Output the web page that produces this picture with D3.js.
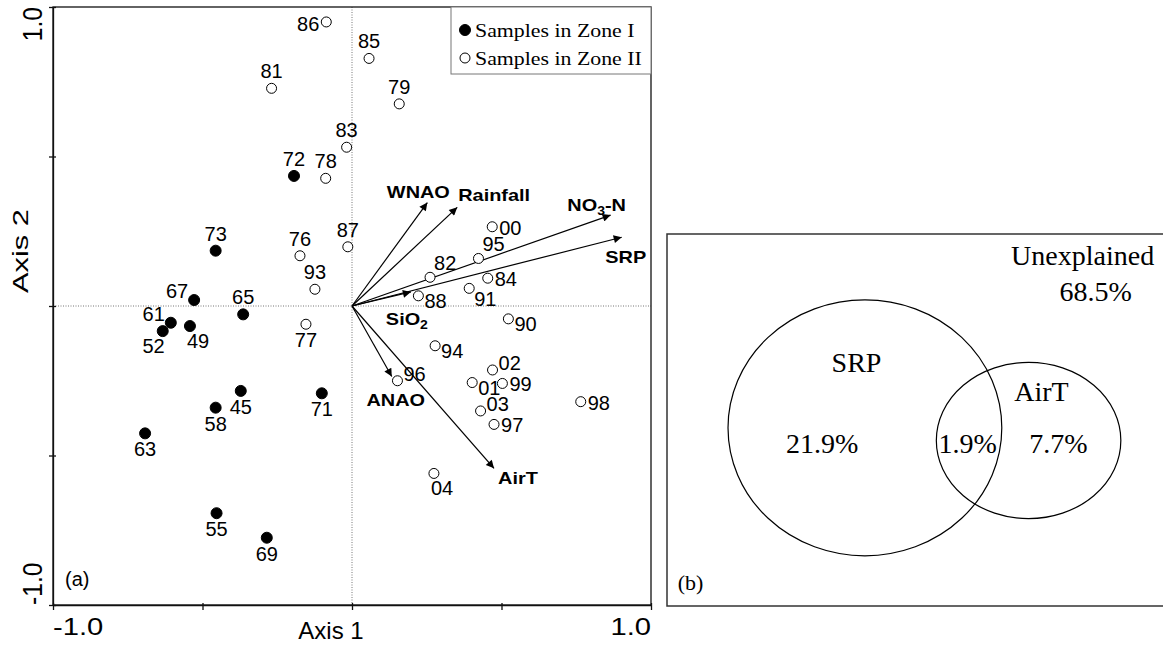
<!DOCTYPE html>
<html lang="en">
<head>
<meta charset="UTF-8">
<title>CCA biplot and variance partitioning</title>
<script src="https://cdn.jsdelivr.net/npm/d3@7"></script>
<style>
  body { margin: 0; background: #fff; }
  svg { display: block; }
</style>
</head>
<body>
<svg width="1163" height="647"></svg>
<script>
// samples, zone I (filled)
var zone1Ids = ["72","73","67","65","61","52","49","45","71","58","63","55","69"];
var zone1X   = [-0.194,-0.456,-0.528,-0.364,-0.606,-0.633,-0.542,-0.372,-0.101,-0.456,-0.692,-0.453,-0.285];
var zone1Y   = [ 0.435, 0.185, 0.020,-0.028,-0.056,-0.084,-0.067,-0.284,-0.292,-0.340,-0.426,-0.693,-0.775];

// samples, zone II (open)
var zone2Ids = ["86","85","81","79","83","78","87","76","93","77","00","95","82","84","91","88","90","94","02","96","01","99","98","03","97","04"];
var zone2X   = [-0.086,0.057,-0.269,0.158,-0.018,-0.088,-0.014,-0.174,-0.124,-0.154,0.469,0.423,0.261,0.454,0.392,0.222,0.523,0.278,0.470,0.152,0.402,0.503,0.765,0.430,0.475,0.274];
var zone2Y   = [ 0.950,0.828, 0.728,0.676, 0.531, 0.427, 0.198, 0.168, 0.056,-0.061,0.265,0.159,0.096,0.093,0.059,0.034,-0.043,-0.133,-0.214,-0.250,-0.256,-0.259,-0.320,-0.351,-0.396,-0.560];

// environmental vectors
var envNames = ["WNAO","Rainfall","NO3-N","SRP","SiO2","ANAO","AirT"];
var envX     = [0.252, 0.352, 0.865, 0.902, 0.197, 0.133, 0.475];
var envY     = [0.346, 0.330, 0.304, 0.230, 0.047,-0.236,-0.543];

var axisTicks = [-1, -0.5, 0, 0.5, 1];
var tickLabels = ["-1.0", "1.0"];
var legendLabels = ["Samples in Zone I", "Samples in Zone II"];

// variance partitioning (b)
var vennSets  = ["SRP", "AirT"];
var vennOnly  = [21.9, 7.7];
var vennShared = 1.9;
var vennUnexplained = 68.5;

// where each sample label sits relative to its point
var labelSide = {
  "86":"l","85":"t","81":"t","79":"t","83":"t","78":"t","72":"t","73":"t","76":"t","87":"t","93":"t","65":"t",
  "67":"tl","61":"tl","52":"bbl","49":"bbr","04":"bbr",
  "77":"b","45":"b","71":"b","58":"b","63":"b","55":"b","69":"b",
  "00":"r","84":"r","99":"r","98":"r","97":"r",
  "95":"tr","82":"tr","96":"ur","02":"ur","03":"ur",
  "88":"rb","90":"rb","94":"rb","01":"rb","91":"br"
};
var sideOffset = {
  t:[0,-10,"middle"], b:[0,23,"middle"], l:[-7,9,"end"], r:[7,8,"start"],
  tr:[4,-7,"start"], tl:[-6,-2,"end"], ur:[6,0,"start"], rb:[6,12,"start"],
  br:[5,18,"start"], bbr:[-3,22,"start"], bbl:[2,22,"end"]
};
// vector label offsets from arrow tip
var envLabelOff = {
  "WNAO":[-9,-5,"middle"], "Rainfall":[1,-6,"start"], "NO3-N":[-14,-4,"middle"],
  "SRP":[4,26,"middle"], "SiO2":[-4,33,"middle"], "ANAO":[4,29,"middle"], "AirT":[4,16,"start"]
};

var svg = d3.select("svg");
var sans = "'Liberation Sans', Arial, sans-serif";
var serif = "'Liberation Serif', 'Times New Roman', serif";

// text helper: position, rotation and stretch along the baseline
function txt(g, s, x, y, o) {
  return g.append("text")
    .attr("transform", "translate(" + x + "," + y + ") rotate(" + (o.rot || 0) + ") scale(" + (o.sx || 1) + ",1)")
    .attr("text-anchor", o.anchor || "start")
    .style("font-family", o.font || sans)
    .attr("font-size", o.size)
    .attr("font-weight", o.weight || "normal")
    .attr("fill", "#000")
    .text(s);
}

// ---------- panel (a) ----------
var x = d3.scaleLinear().domain([-1, 1]).range([53, 651]);
var y = d3.scaleLinear().domain([-1, 1]).range([605, 7]);
var ga = svg.append("g");

// dotted zero lines
ga.append("line").attr("x1", x(0)).attr("x2", x(0)).attr("y1", y(1)).attr("y2", y(-1))
  .attr("stroke", "#777").attr("stroke-width", 1).attr("stroke-dasharray", "1,1.5");
ga.append("line").attr("x1", x(-1)).attr("x2", x(1)).attr("y1", y(0)).attr("y2", y(0))
  .attr("stroke", "#777").attr("stroke-width", 1).attr("stroke-dasharray", "1,1.5");

// frame
ga.append("rect").attr("x", x(-1)).attr("y", y(1)).attr("width", x(1) - x(-1)).attr("height", y(-1) - y(1))
  .attr("fill", "none").attr("stroke", "#111").attr("stroke-width", 1.3);

// axes (ticks only)
var xAxis = d3.axisBottom(x).tickValues(axisTicks).tickSizeInner(5).tickSizeOuter(0).tickFormat("");
var yAxis = d3.axisLeft(y).tickValues(axisTicks).tickSizeInner(4).tickSizeOuter(0).tickFormat("");
var gx = ga.append("g").attr("transform", "translate(0," + y(-1) + ")").call(xAxis);
var gy = ga.append("g").attr("transform", "translate(" + x(-1) + ",0)").call(yAxis);
gx.selectAll(".tick line").attr("y1", -2);
gy.selectAll(".tick line").attr("x1", 3);
[gx, gy].forEach(function (g) {
  g.select(".domain").attr("stroke", "#111").attr("stroke-width", 1.3);
  g.selectAll(".tick line").attr("stroke", "#111").attr("stroke-width", 1.3);
});

// tick labels at the ends
txt(ga, tickLabels[0], x(-1), 635, {size: 23, sx: 1.27, anchor: "start"});
txt(ga, tickLabels[1], x(1), 635, {size: 23, sx: 1.27, anchor: "end"});
txt(ga, tickLabels[1], 41.5, y(1), {size: 28, sx: 0.88, rot: -90, anchor: "end"});
txt(ga, tickLabels[0], 41.5, y(-1), {size: 28, sx: 0.88, rot: -90, anchor: "start"});
// axis titles
txt(ga, "Axis 1", 331, 639, {size: 24, anchor: "middle"});
txt(ga, "Axis 2", 28, 251, {size: 22, sx: 1.4, rot: -90, anchor: "middle"});
txt(ga, "(a)", 65, 586, {size: 20});

// environmental arrows
var defs = svg.append("defs");
defs.append("marker").attr("id", "head").attr("viewBox", "0 0 10 10")
  .attr("refX", 10).attr("refY", 5).attr("markerUnits", "userSpaceOnUse")
  .attr("markerWidth", 13).attr("markerHeight", 8).attr("orient", "auto")
  .append("path").attr("d", "M0,0 L10,5 L0,10 Z").attr("fill", "#000");

var env = envNames.map(function (n, i) { return {name: n, x: envX[i], y: envY[i]}; });
ga.selectAll(".vec").data(env).enter().append("line").attr("class", "vec")
  .attr("x1", x(0)).attr("y1", y(0))
  .attr("x2", function (d) { return x(d.x); }).attr("y2", function (d) { return y(d.y); })
  .attr("stroke", "#000").attr("stroke-width", 1.2).attr("marker-end", "url(#head)");

env.forEach(function (d) {
  var o = envLabelOff[d.name];
  var t = txt(ga, "", x(d.x) + o[0], y(d.y) + o[1], {size: 17, sx: 1.17, weight: "bold", anchor: o[2]});
  var m = d.name.match(/^([A-Za-z]+?)(\d)(.*)$/);
  if (m) {
    t.append("tspan").text(m[1]);
    t.append("tspan").attr("font-size", 12).attr("dy", 4).text(m[2]);
    t.append("tspan").attr("dy", -4).text(m[3]);
  } else {
    t.text(d.name);
  }
});

// samples
var samples = [];
zone1Ids.forEach(function (id, i) { samples.push({id: id, x: zone1X[i], y: zone1Y[i], zone: 1}); });
zone2Ids.forEach(function (id, i) { samples.push({id: id, x: zone2X[i], y: zone2Y[i], zone: 2}); });

ga.selectAll(".pt").data(samples).enter().append("circle").attr("class", "pt")
  .attr("cx", function (d) { return x(d.x); })
  .attr("cy", function (d) { return y(d.y); })
  .attr("r", function (d) { return d.zone === 1 ? 5.5 : 5; })
  .attr("fill", function (d) { return d.zone === 1 ? "#000" : "#fff"; })
  .attr("stroke", "#000").attr("stroke-width", 1);

samples.forEach(function (d) {
  var o = sideOffset[labelSide[d.id]];
  txt(ga, d.id, x(d.x) + o[0], y(d.y) + o[1], {size: 20, anchor: o[2]});
});

// legend
var lg = ga.append("g");
lg.append("rect").attr("x", 451).attr("y", y(1)).attr("width", x(1) - 451).attr("height", 67)
  .attr("fill", "#fff").attr("stroke", "#777").attr("stroke-width", 1);
legendLabels.forEach(function (s, i) {
  lg.append("circle").attr("cx", 465).attr("cy", 30 + i * 28).attr("r", i === 0 ? 5.5 : 5)
    .attr("fill", i === 0 ? "#000" : "#fff").attr("stroke", "#000").attr("stroke-width", 1);
  txt(lg, s, 475, 37 + i * 28, {size: 19, sx: 1.15, font: serif});
});

// ---------- panel (b) ----------
var bx = d3.scaleLinear().domain([0, 1]).range([667, 1163]);
var by = d3.scaleLinear().domain([0, 1]).range([234, 606]);
var gb = svg.append("g");
gb.append("rect").attr("x", bx(0)).attr("y", by(0)).attr("width", bx(1.02) - bx(0)).attr("height", by(1) - by(0))
  .attr("fill", "none").attr("stroke", "#333").attr("stroke-width", 1.5);

var vennCx = [0.399, 0.729], vennCy = [0.521, 0.555], vennRx = [0.276, 0.186], vennRy = [0.344, 0.210];
gb.selectAll(".set").data(vennSets).enter().append("ellipse").attr("class", "set")
  .attr("cx", function (d, i) { return bx(vennCx[i]); })
  .attr("cy", function (d, i) { return by(vennCy[i]); })
  .attr("rx", function (d, i) { return bx(vennRx[i]) - bx(0); })
  .attr("ry", function (d, i) { return by(vennRy[i]) - by(0); })
  .attr("fill", "none").attr("stroke", "#000").attr("stroke-width", 1.2);

var pct = function (v) { return v.toFixed(1) + "%"; };
var vs = {size: 28, font: serif, anchor: "middle"};
txt(gb, "Unexplained", bx(0.838), by(0.083), vs);
txt(gb, pct(vennUnexplained), bx(0.864), by(0.179), vs);
txt(gb, vennSets[0], bx(0.382), by(0.370), vs);
txt(gb, vennSets[1], bx(0.755), by(0.449), vs);
txt(gb, pct(vennOnly[0]), bx(0.313), by(0.589), vs);
txt(gb, pct(vennShared), bx(0.606), by(0.589), vs);
txt(gb, pct(vennOnly[1]), bx(0.789), by(0.589), vs);
txt(gb, "(b)", bx(0.0216), by(0.957), {size: 22, font: serif});
</script>
</body>
</html>
